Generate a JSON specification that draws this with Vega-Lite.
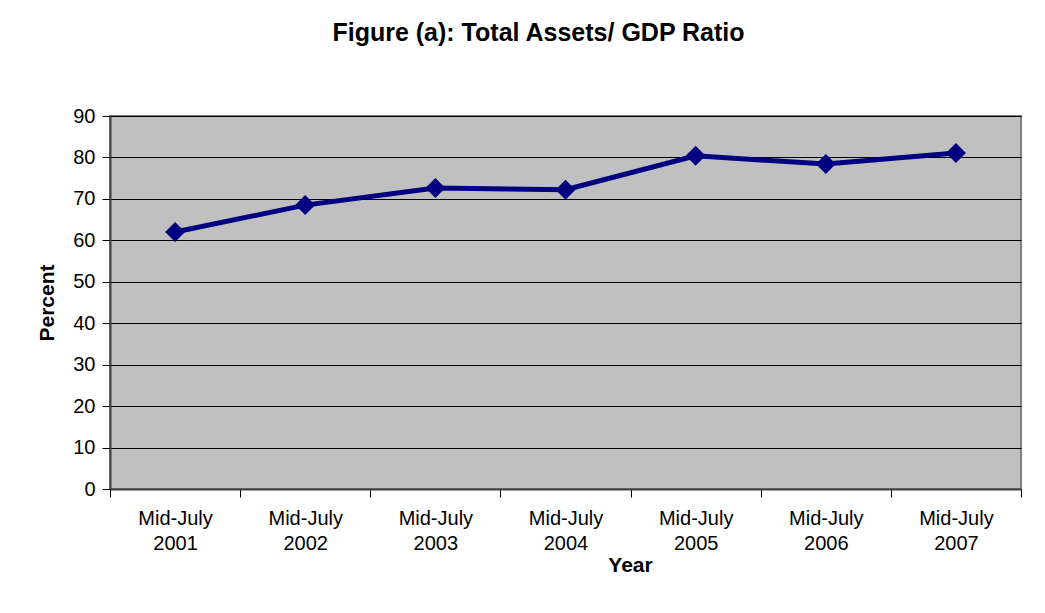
{
  "$schema": "https://vega.github.io/schema/vega-lite/v6.json",
  "width": 911,
  "height": 373,
  "autosize": {"type": "none"},
  "padding": {"left": 110, "top": 116, "right": 24, "bottom": 124},
  "background": "white",
  "title": {
    "text": "Figure (a): Total Assets/ GDP Ratio",
    "font": "Liberation Sans",
    "fontSize": 25,
    "fontWeight": "bold",
    "color": "black",
    "anchor": "middle",
    "dx": -27,
    "offset": 60
  },
  "data": {
    "values": [
      {"year": "Mid-July 2001", "value": 62.0},
      {"year": "Mid-July 2002", "value": 68.5},
      {"year": "Mid-July 2003", "value": 72.6},
      {"year": "Mid-July 2004", "value": 72.2},
      {"year": "Mid-July 2005", "value": 80.4},
      {"year": "Mid-July 2006", "value": 78.4},
      {"year": "Mid-July 2007", "value": 81.1}
    ]
  },
  "encoding": {
    "x": {
      "field": "year",
      "type": "ordinal",
      "sort": null,
      "scale": {"type": "band", "paddingInner": 0, "paddingOuter": 0},
      "axis": {
        "title": "Year",
        "titleFont": "Liberation Sans",
        "titleFontSize": 21,
        "titleFontWeight": "bold",
        "titleColor": "black",
        "titleX": 520,
        "titleY": 76,
        "titleBaseline": "middle",
        "labelExpr": "isValid(datum.value) ? split(datum.value, ' ') : ''",
        "labelAngle": 0,
        "labelFont": "Liberation Sans",
        "labelFontSize": 20,
        "labelLineHeight": 25,
        "labelColor": "black",
        "labelPadding": 11,
        "tickBand": "extent",
        "tickSize": 8,
        "tickColor": "black",
        "domainColor": "#404040",
        "domainWidth": 2,
        "grid": false
      }
    },
    "y": {
      "field": "value",
      "type": "quantitative",
      "scale": {"domain": [0, 90], "nice": false},
      "axis": {
        "title": "Percent",
        "titleFont": "Liberation Sans",
        "titleFontSize": 21,
        "titleFontWeight": "bold",
        "titleColor": "black",
        "titlePadding": 15,
        "values": [0, 10, 20, 30, 40, 50, 60, 70, 80, 90],
        "labelFont": "Liberation Sans",
        "labelFontSize": 20,
        "labelColor": "black",
        "labelPadding": 7,
        "tickSize": 8,
        "tickColor": "black",
        "domainColor": "#404040",
        "domainWidth": 2,
        "grid": true,
        "gridColor": "black",
        "gridWidth": 1
      }
    }
  },
  "layer": [
    {"mark": {"type": "line", "color": "#000080", "strokeWidth": 5}},
    {"mark": {"type": "point", "shape": "diamond", "filled": true, "size": 400, "color": "#000080", "opacity": 1}}
  ],
  "config": {
    "view": {"fill": "#C0C0C0", "stroke": "#808080", "strokeWidth": 2}
  }
}
